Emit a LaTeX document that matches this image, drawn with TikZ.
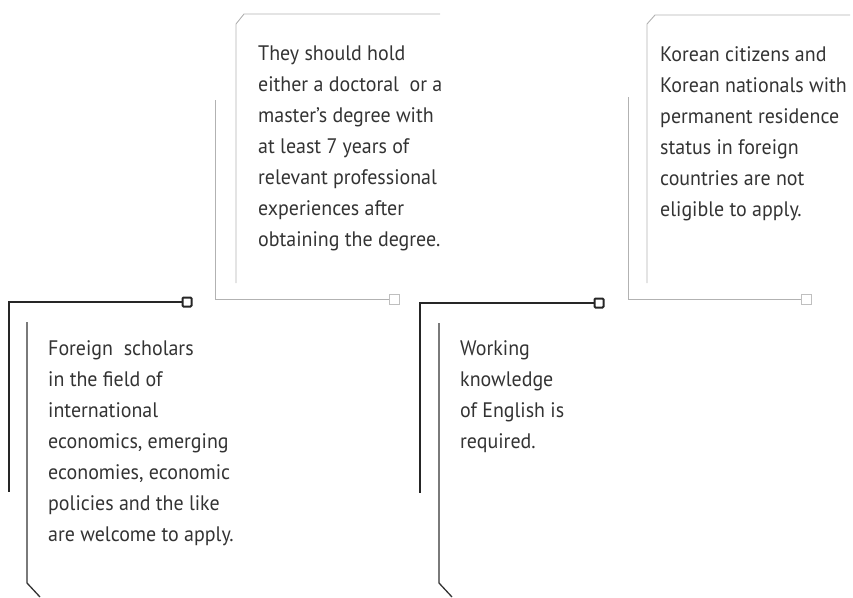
\documentclass[tikz,border=0pt]{standalone}
\usepackage{fontspec}
\setmainfont{PT Sans}[FakeStretch=0.95]
\usepackage{tikz}

\begin{document}
\begin{tikzpicture}[x=1pt, y=-1pt,
  dark/.style={black!85, line width=2.2pt},
  darkthin/.style={black!80, line width=1.3pt},
  faint/.style={black!30, line width=0.9pt},
  knob/.style={draw=black!85, line width=2pt, fill=white, minimum size=9pt, inner sep=0pt, rounded corners=1pt},
  faintknob/.style={draw=black!25, line width=0.8pt, fill=white, minimum size=10pt, inner sep=0pt},
  txt/.style={anchor=north west, inner sep=0pt, align=left, font=\fontsize{21}{31}\selectfont, text=black!80}]

\useasboundingbox (0,0) rectangle (853,597);

% top frames (light)
\draw[faint] (236,283) -- (236,24) -- (244,14) -- (440,14);
\node[faintknob] (kB) at (394,299) {};
\draw[faint] (215,100) -- (215,299) -- (kB.west);

\draw[faint] (647,283) -- (647,24) -- (655,15) -- (850,15);
\node[faintknob] (kD) at (806,299) {};
\draw[faint] (628,97) -- (628,299) -- (kD.west);

% bottom frames (dark)
\node[knob] (kA) at (187,302) {};
\draw[dark] (kA.west) -- (9,302) -- (9,492);
\draw[darkthin] (27,322) -- (27,583) -- (40,597);

\node[knob] (kC) at (599,303) {};
\draw[dark] (kC.west) -- (420,303) -- (420,493);
\draw[darkthin] (439,323) -- (439,583) -- (452,597);

% texts
\node[txt] (tB) at (258,46) {They should hold\\either a doctoral~ or a\\master's degree with\\at least 7 years of\\relevant professional\\experiences after\\obtaining the degree.};
\node[txt] (tD) at (660,46) {Korean citizens and\\Korean nationals with\\permanent residence\\status in foreign\\countries are not\\eligible to apply.};
\node[txt] (tA) at (48,340) {Foreign~ scholars\\in the field of\\international\\economics, emerging\\economies, economic\\policies and the like\\are welcome to apply.};
\node[txt] (tC) at (460,340) {Working\\knowledge\\of English is\\required.};
\end{tikzpicture}
\end{document}
